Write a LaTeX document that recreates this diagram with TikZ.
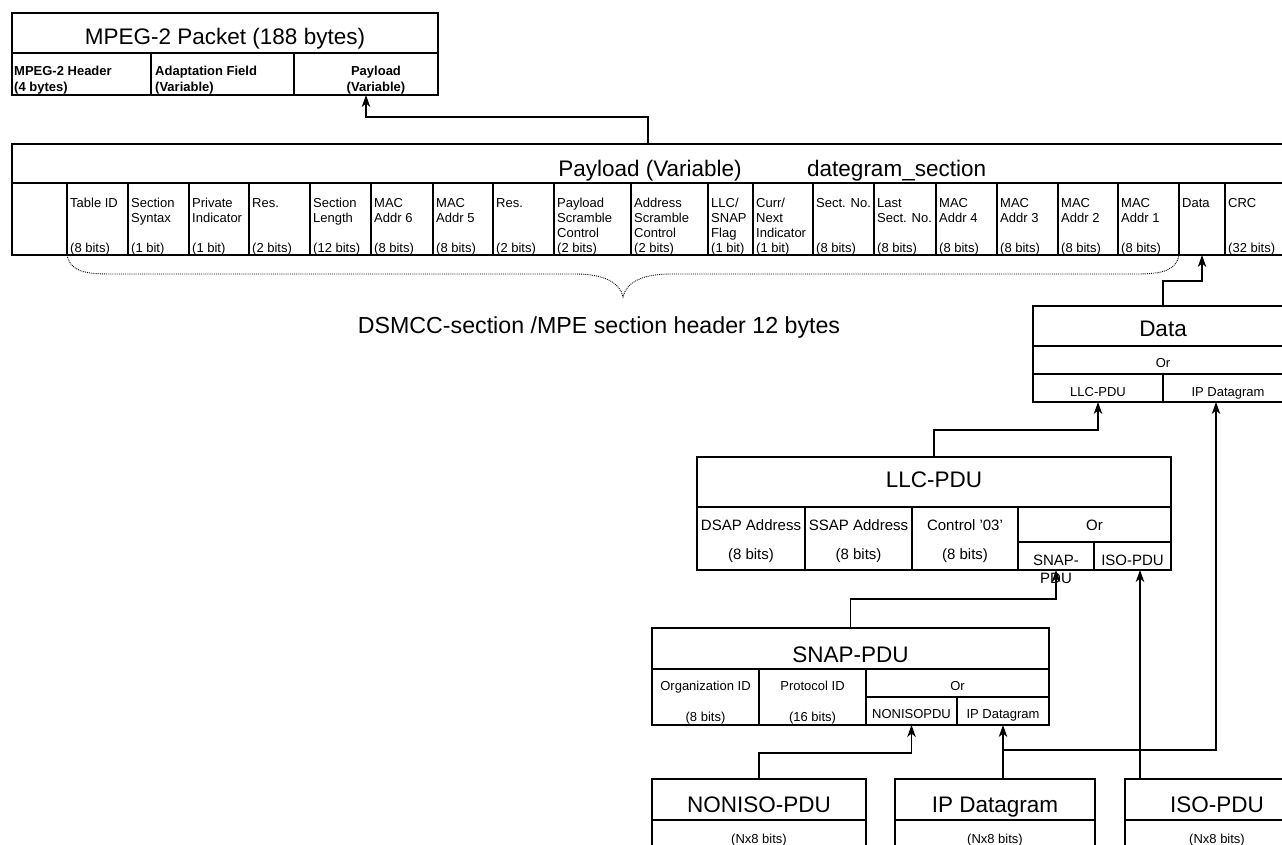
\documentclass[tikz,border=0pt]{standalone}
\usepackage{fontspec}
\setmainfont{Liberation Sans}
\usetikzlibrary{fit,arrows.meta}

% a drawn cell spanning (x1,y1)-(x2,y2)
\newcommand\cellrect[5]{\node[cellbox, fit={(#2,#3) (#4,#5)}] (#1) {};}
% four-line field description, top-left aligned in the section header row
\newcommand\fieldtext[3]{\node[fld] (#1) at (#2,196.5) {\begin{tabular}{@{}l@{}}#3\end{tabular}};}

\begin{document}
\begin{tikzpicture}[x=1pt,y=-1pt,
  cellbox/.style={draw, line width=1.4pt, inner sep=0pt, outer sep=0pt},
  ttl/.style={font=\fontsize{22.5}{26}\selectfont, inner sep=0pt, anchor=base},
  fld/.style={font=\fontsize{13}{15}\selectfont, inner sep=0pt, anchor=north west},
  small/.style={font=\fontsize{13}{15}\selectfont, inner sep=0pt, anchor=base},
  mid/.style={font=\fontsize{15}{18}\selectfont, inner sep=0pt, anchor=base},
  hdr/.style={font=\bfseries\fontsize{13}{16}\selectfont, inner sep=0pt},
  link/.style={line width=1.2pt},
  arr/.style={link, -{Stealth[length=12pt,width=8.5pt,inset=3.5pt]}},
  brace/.style={densely dotted, line width=0.9pt}]

\useasboundingbox (0,0) rectangle (1282,845);
\fill[white] (0,0) rectangle (1282,845);
\clip (0,0) rectangle (1282,845);

% ---------- MPEG-2 transport packet ----------
\cellrect{mp-title}{12}{13}{438}{53}
\cellrect{mp-hdr}{12}{53}{151}{95}
\cellrect{mp-adapt}{151}{53}{294}{95}
\cellrect{mp-pay}{294}{53}{438}{95}
\node[ttl] (mp-title-t) at (225,45) {MPEG-2 Packet (188 bytes)};
\node[hdr, anchor=north west] (mp-hdr-t) at (14,63.8)
  {\begin{tabular}{@{}l@{}}MPEG-2 Header\\(4 bytes)\end{tabular}};
\node[hdr, anchor=north west] (mp-adapt-t) at (155,63.8)
  {\begin{tabular}{@{}l@{}}Adaptation Field\\(Variable)\end{tabular}};
\node[hdr, anchor=north] (mp-pay-t) at (376,63.8)
  {\begin{tabular}{@{}c@{}}Payload\\(Variable)\end{tabular}};

% ---------- datagram section ----------
\cellrect{pl-title}{12}{144}{1290}{183}
\node[ttl] (pl-title-t) at (650,177) {Payload (Variable)};
\node[ttl, anchor=base west] (pl-name-t) at (807,177) {dategram\_section};

\foreach \n/\a/\b in {f-0/12/67, f-tid/67/128, f-ssyn/128/189, f-priv/189/249,
    f-res1/249/310, f-slen/310/371, f-mac6/371/433, f-mac5/433/493,
    f-res2/493/554, f-psc/554/631, f-asc/631/708, f-llc/708/753,
    f-cni/753/813, f-sno/813/874, f-lsno/874/936, f-mac4/936/997,
    f-mac3/997/1058, f-mac2/1058/1118, f-mac1/1118/1179, f-data/1179/1225,
    f-crc/1225/1290}
  {\cellrect{\n}{\a}{183}{\b}{255}}

\fieldtext{ft-tid}{70}{Table ID\\ \\ \\(8 bits)}
\fieldtext{ft-ssyn}{131}{Section\\Syntax\\ \\(1 bit)}
\fieldtext{ft-priv}{192}{Private\\Indicator\\ \\(1 bit)}
\fieldtext{ft-res1}{252}{Res.\\ \\ \\(2 bits)}
\fieldtext{ft-slen}{313}{Section\\Length\\ \\(12 bits)}
\fieldtext{ft-mac6}{374}{MAC\\Addr 6\\ \\(8 bits)}
\fieldtext{ft-mac5}{436}{MAC\\Addr 5\\ \\(8 bits)}
\fieldtext{ft-res2}{496}{Res.\\ \\ \\(2 bits)}
\fieldtext{ft-psc}{557}{Payload\\Scramble\\Control\\(2 bits)}
\fieldtext{ft-asc}{634}{Address\\Scramble\\Control\\(2 bits)}
\fieldtext{ft-llc}{711}{LLC/\\SNAP\\Flag\\(1 bit)}
\fieldtext{ft-cni}{756}{Curr/\\Next\\Indicator\\(1 bit)}
\fieldtext{ft-sno}{816}{Sect. No.\\ \\ \\(8 bits)}
\fieldtext{ft-lsno}{877}{Last\\Sect. No.\\ \\(8 bits)}
\fieldtext{ft-mac4}{939}{MAC\\Addr 4\\ \\(8 bits)}
\fieldtext{ft-mac3}{1000}{MAC\\Addr 3\\ \\(8 bits)}
\fieldtext{ft-mac2}{1061}{MAC\\Addr 2\\ \\(8 bits)}
\fieldtext{ft-mac1}{1121}{MAC\\Addr 1\\ \\(8 bits)}
\fieldtext{ft-data}{1182}{Data}
\fieldtext{ft-crc}{1228}{CRC\\ \\ \\(32 bits)}

% header brace
\draw[brace] (f-tid.south west) .. controls (70,270) and (82,274) .. (110,274)
  -- (575,274) .. controls (605,274) and (620,283) .. (623,297)
  .. controls (626,283) and (641,274) .. (671,274)
  -- (1136,274) .. controls (1164,274) and (1176,270) .. (f-data.south west);
\node[ttl, font=\fontsize{23.2}{27}\selectfont] (brace-t) at (599,333)
  {DSMCC-section /MPE section header 12 bytes};

% ---------- Data ----------
\cellrect{d-title}{1033}{306}{1293}{346}
\cellrect{d-or}{1033}{346}{1293}{374}
\cellrect{d-llc}{1033}{374}{1163}{402}
\cellrect{d-ip}{1163}{374}{1293}{402}
\node[ttl] (d-title-t) at (1163,336) {Data};
\node[small] (d-or-t) at (1163,367.5) {Or};
\node[small] (d-llc-t) at (1098,396) {LLC-PDU};
\node[small] (d-ip-t) at (1228,396) {IP Datagram};

% ---------- LLC-PDU ----------
\cellrect{l-title}{697}{457}{1171}{507}
\cellrect{l-dsap}{697}{507}{805}{570}
\cellrect{l-ssap}{805}{507}{912}{570}
\cellrect{l-ctrl}{912}{507}{1018}{570}
\cellrect{l-or}{1018}{507}{1171}{542}
\cellrect{l-snap}{1018}{542}{1094}{570}
\cellrect{l-iso}{1094}{542}{1171}{570}
\node[ttl] (l-title-t) at (934,487) {LLC-PDU};
\node[mid] (l-dsap-t) at (751,530) {DSAP Address};
\node[mid] (l-dsap-b) at (751,559) {(8 bits)};
\node[mid] (l-ssap-t) at (858.5,530) {SSAP Address};
\node[mid] (l-ssap-b) at (858.5,559) {(8 bits)};
\node[mid] (l-ctrl-t) at (965,530) {Control '03'};
\node[mid] (l-ctrl-b) at (965,559) {(8 bits)};
\node[mid] (l-or-t) at (1094.5,530) {Or};
\node[mid, anchor=north] (l-snap-t) at (1056,552.4)
  {\begin{tabular}{@{}c@{}}SNAP-\\PDU\end{tabular}};
\node[mid] (l-iso-t) at (1132.5,565) {ISO-PDU};

% ---------- SNAP-PDU ----------
\cellrect{s-title}{652}{628}{1049}{669}
\cellrect{s-org}{652}{669}{759}{725}
\cellrect{s-prot}{759}{669}{866}{725}
\cellrect{s-or}{866}{669}{1049}{697}
\cellrect{s-non}{866}{697}{957}{725}
\cellrect{s-ip}{957}{697}{1049}{725}
\node[ttl] (s-title-t) at (850.5,662) {SNAP-PDU};
\node[small] (s-org-t) at (705.5,690) {Organization ID};
\node[small] (s-org-b) at (705.5,721) {(8 bits)};
\node[small] (s-prot-t) at (812.5,690) {Protocol ID};
\node[small] (s-prot-b) at (812.5,721) {(16 bits)};
\node[small] (s-or-t) at (957.5,690) {Or};
\node[small] (s-non-t) at (911.5,718) {NONISOPDU};
\node[small] (s-ip-t) at (1003,718) {IP Datagram};

% ---------- payload units ----------
\cellrect{b-non-title}{652}{779}{866}{820}
\cellrect{b-non-len}{652}{820}{866}{870}
\cellrect{b-ip-title}{895}{779}{1095}{820}
\cellrect{b-ip-len}{895}{820}{1095}{870}
\cellrect{b-iso-title}{1125}{779}{1309}{820}
\cellrect{b-iso-len}{1125}{820}{1309}{870}
\node[ttl] (b-non-t) at (759,812) {NONISO-PDU};
\node[small] (b-non-b) at (759,843) {(Nx8 bits)};
\node[ttl] (b-ip-t) at (995,812) {IP Datagram};
\node[small] (b-ip-b) at (995,843) {(Nx8 bits)};
\node[ttl] (b-iso-t) at (1217,812) {ISO-PDU};
\node[small] (b-iso-b) at (1217,843) {(Nx8 bits)};

% ---------- connectors ----------
\coordinate (plbend) at (648,117);
\draw[arr] (pl-title.north -| plbend) -- (plbend) -| (mp-pay.south);
\draw[arr] (d-title.north) -- ++(0,-25) -| (f-data.south);
\draw[arr] (l-title.north) -- ++(0,-27) -| (d-llc.south);
\draw[arr] (s-title.north) -- ++(0,-29) -| (l-snap.south);
\draw[arr] (b-non-title.north) -- ++(0,-26) -| (s-non.south);
\draw[arr] (b-ip-title.north -| s-ip.south) -- (s-ip.south);
\coordinate (ipjoin) at (1003,750);
\coordinate (ipup) at ([xshift=-12pt]d-ip.south);
\draw[arr] (ipjoin) -| (ipup);
\coordinate (isofoot) at (1140,779);
\draw[arr] (isofoot) -- (isofoot |- l-iso.south);

\end{tikzpicture}
\end{document}
